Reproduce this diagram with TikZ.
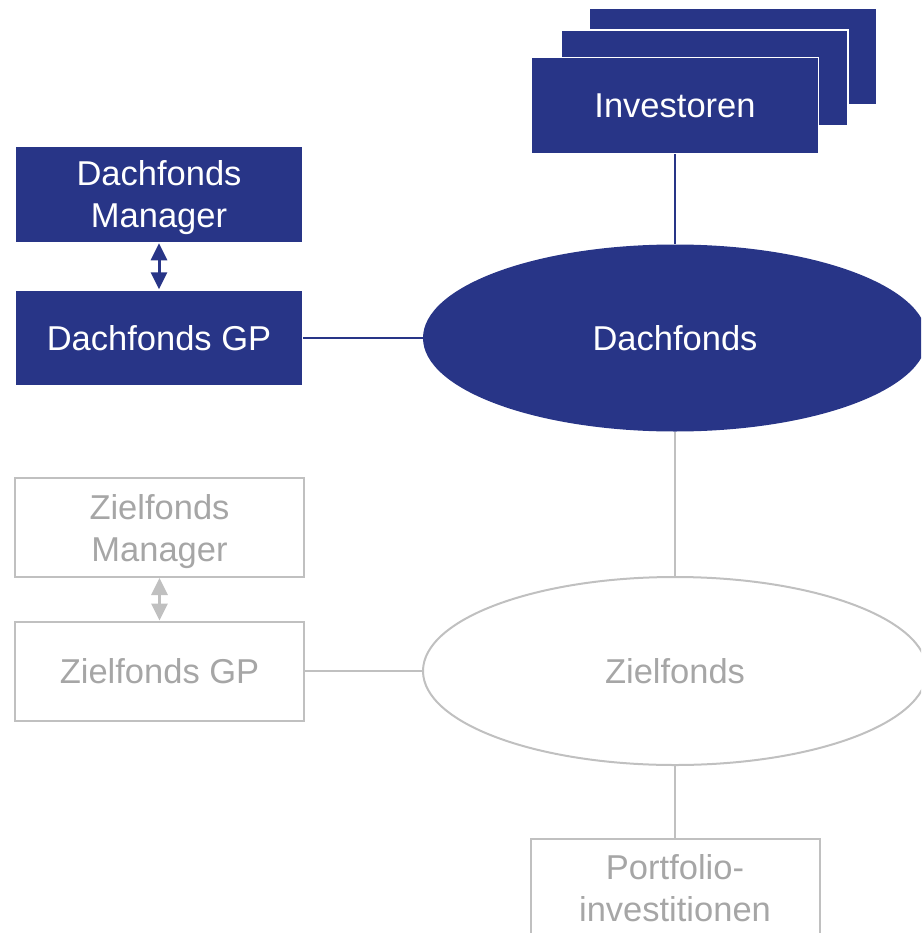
\documentclass[tikz,border=0pt]{standalone}
\usepackage{fontspec}
\setmainfont{Liberation Sans}
\usetikzlibrary{shapes.geometric,arrows.meta}
\usepackage{xcolor}
\definecolor{dunkelblau}{RGB}{40,53,135}
\definecolor{hellgrau}{RGB}{192,192,192}
\definecolor{textgrau}{RGB}{166,166,166}

\begin{document}
\begin{tikzpicture}[x=1pt,y=-1pt,
    schrift/.style={font=\fontsize{34.5}{42}\selectfont},
    zweizeilig/.style={text depth=-2pt},
    blaubox/.style={rectangle,fill=dunkelblau,text=white,draw=white,line width=1.5pt,
        minimum width=287pt,minimum height=96pt,inner sep=0pt,align=center,schrift},
    graubox/.style={rectangle,draw=hellgrau,text=textgrau,line width=2pt,
        minimum width=289pt,minimum height=99pt,inner sep=0pt,align=center,schrift},
    blauoval/.style={ellipse,fill=dunkelblau,text=white,minimum width=504pt,
        minimum height=187pt,inner sep=0pt,schrift},
    grauoval/.style={ellipse,draw=hellgrau,text=textgrau,line width=2pt,minimum width=504pt,
        minimum height=188pt,inner sep=0pt,schrift},
    blaulinie/.style={draw=dunkelblau,line width=2pt},
    graulinie/.style={draw=hellgrau,line width=2pt},
    doppelpfeil/.style={line width=3pt,{Triangle[width=16pt,length=17pt]}-{Triangle[width=16pt,length=17pt]}}]
  \useasboundingbox (0,0) rectangle (921,933);
  \clip (0,0) rectangle (921,933);

  % Investoren (gestapelt)
  \node[blaubox] (inv3) at (733,56.5) {};
  \node[blaubox] (inv2) at (704.5,78) {};
  \node[blaubox] (inv) at (675,105.5) {Investoren};

  % Dachfonds-Ebene
  \node[blaubox,zweizeilig] (dman) at (159,194.5) {Dachfonds\\Manager};
  \node[blaubox] (dgp) at (159,338) {Dachfonds GP};
  \node[blauoval] (dach) at (675,338) {Dachfonds};

  % Zielfonds-Ebene
  \node[graubox,zweizeilig] (zman) at (159.5,527.5) {Zielfonds\\Manager};
  \node[graubox] (zgp) at (159.5,671) {Zielfonds GP};
  \node[grauoval] (ziel) at (675,671) {Zielfonds};
  \node[graubox,zweizeilig] (port) at (675,888) {Portfolio-\\investitionen};

  % Verbindungen
  \draw[blaulinie] (inv.south) -- (dach.north);
  \draw[blaulinie] (dgp.east) -- (dach.west);
  \draw[doppelpfeil,dunkelblau] (dman.south) -- (dgp.north);
  \draw[graulinie] (dach.south) -- (ziel.north);
  \draw[graulinie] (zgp.east) -- (ziel.west);
  \draw[doppelpfeil,hellgrau] (zman.south) -- (zgp.north);
  \draw[graulinie] (ziel.south) -- (port.north);
\end{tikzpicture}
\end{document}
